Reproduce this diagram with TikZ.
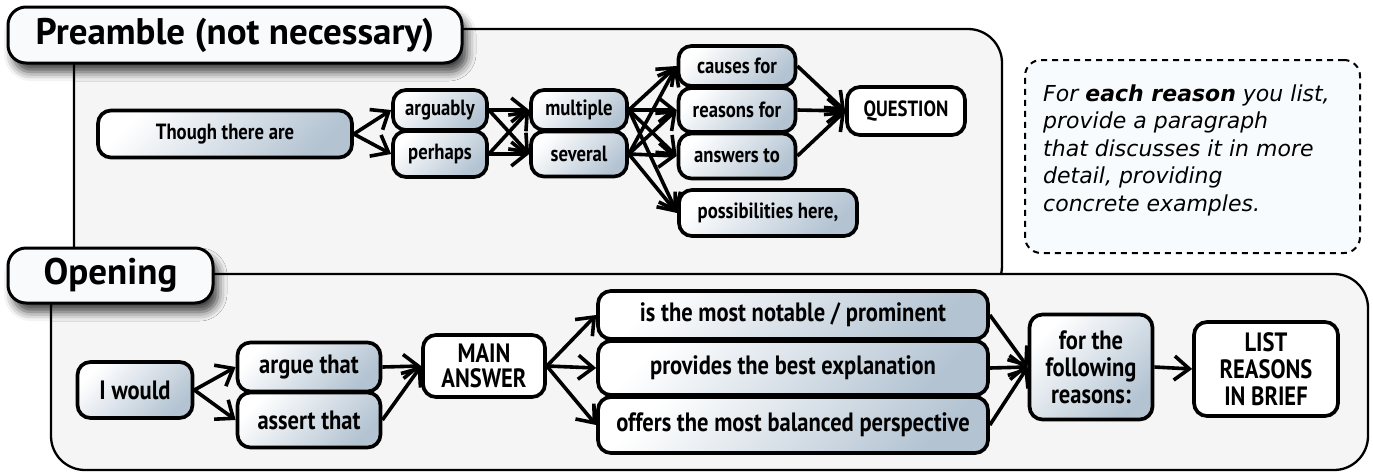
\documentclass[tikz,border=0pt]{standalone}
\usepackage{fontspec}
\newfontfamily\nodefont[FakeStretch=0.85]{PT Sans}
\newfontfamily\titlefont{PT Sans}
\newfontfamily\notefont{DejaVu Sans}
\usetikzlibrary{arrows.meta,shadows.blur}
\definecolor{panelgray}{HTML}{F5F5F5}
\definecolor{nodedark}{HTML}{B3C3D2}
\definecolor{notefill}{HTML}{F7FBFD}
\definecolor{titlefill}{HTML}{F9FAFB}
\tikzset{
  panel/.style={draw=black, line width=2.3pt, fill=panelgray, rounded corners=34pt},
  titlebox/.style={draw=black, line width=3pt, fill=titlefill, rounded corners=18pt, inner sep=0pt,
    blur shadow={shadow xshift=5pt, shadow yshift=-9pt, shadow blur radius=9pt, shadow opacity=75},
    font=\titlefont\bfseries\fontsize{37}{40}\selectfont},
  basebox/.style={draw=black, line width=3.7pt, rounded corners=13pt, inner sep=0pt, align=center},
  gbox/.style={basebox, top color=white, bottom color=nodedark, shading angle=45},
  wbox/.style={basebox, fill=white},
  pfont/.style={font=\nodefont\bfseries\fontsize{22}{25}\selectfont},
  ofont/.style={font=\nodefont\bfseries\fontsize{26.5}{25}\selectfont},
  lfont/.style={font=\nodefont\bfseries\fontsize{26.5}{27}\selectfont},
  arr/.style={line width=3.6pt, -{Straight Barb[length=15pt,width=24pt]}},
  notebox/.style={draw=black, line width=2pt, dash pattern=on 6pt off 5pt, fill=notefill, rounded corners=16pt},
}
\begin{document}
\begin{tikzpicture}[x=1pt,y=-1pt]
\useasboundingbox (0,0) rectangle (1373,472);
% panels
\path[panel] (74,29) rectangle (1002,300);
\node[titlebox, minimum width=454pt, minimum height=56pt] (pretitle) at (235,35) {Preamble (not necessary)};
\path[panel] (51,274) rectangle (1368,470);
\node[titlebox, minimum width=205pt, minimum height=55pt] (opentitle) at (110.5,275.5) {Opening};
% note
\node[notebox, minimum width=335pt, minimum height=193pt] (notebox) at (1192.5,156.5) {};
\node[anchor=west, align=left, inner sep=0pt, font=\notefont\itshape\fontsize{22}{27.5}\selectfont] (notetext) at (1043,150)
  {For \textbf{each reason} you list,\\provide a paragraph\\that discusses it in more\\detail, providing\\concrete examples.};
% preamble nodes
\node[gbox, pfont, minimum width=254pt, minimum height=47pt] (though) at (225,134) {Though there are};
\node[gbox, pfont, minimum width=94pt, minimum height=40pt] (arguably) at (440,110) {arguably};
\node[gbox, pfont, minimum width=94pt, minimum height=46pt] (perhaps) at (440,154) {perhaps};
\node[gbox, pfont, minimum width=96pt, minimum height=40pt] (multiple) at (579,110) {multiple};
\node[gbox, pfont, minimum width=96pt, minimum height=45pt] (several) at (579,154) {several};
\node[gbox, pfont, minimum width=117pt, minimum height=40pt] (causes) at (737,66) {causes for};
\node[gbox, pfont, minimum width=117pt, minimum height=44pt] (reasons) at (737,110) {reasons for};
\node[gbox, pfont, minimum width=117pt, minimum height=45pt] (answers) at (737,156) {answers to};
\node[gbox, pfont, minimum width=178pt, minimum height=46pt] (possib) at (768,213) {possibilities here,};
\node[wbox, pfont, minimum width=118pt, minimum height=48pt] (question) at (906,111) {QUESTION};
% opening nodes
\node[gbox, ofont, minimum width=115pt, minimum height=56pt] (iwould) at (135,390) {I would};
\node[gbox, ofont, minimum width=143pt, minimum height=49pt] (argue) at (309,367) {argue that};
\node[gbox, ofont, minimum width=143pt, minimum height=55pt] (assert) at (309,420) {assert that};
\node[wbox, ofont, minimum width=122pt, minimum height=62pt] (main) at (484,366) {MAIN\\ANSWER};
\node[gbox, ofont, minimum width=390pt, minimum height=48pt] (notable) at (793,315) {is the most notable / prominent};
\node[gbox, ofont, minimum width=390pt, minimum height=54pt] (provides) at (793,368) {provides the best explanation};
\node[gbox, ofont, minimum width=390pt, minimum height=56pt] (offers) at (793,425) {offers the most balanced perspective};
\node[gbox, lfont, minimum width=123pt, minimum height=105pt] (following) at (1091,367) {for the\\following\\reasons:};
\node[wbox, lfont, minimum width=144pt, minimum height=94pt] (list) at (1266,369) {LIST\\REASONS\\IN BRIEF};
% arrows
\foreach \a/\b in {though/arguably, though/perhaps,
  arguably/multiple, arguably/several, perhaps/multiple, perhaps/several,
  multiple/causes, multiple/reasons, multiple/answers, multiple/possib,
  several/causes, several/reasons, several/answers, several/possib,
  causes/question, reasons/question, answers/question,
  iwould/argue, iwould/assert, argue/main, assert/main,
  main/notable, main/provides, main/offers,
  notable/following, provides/following, offers/following, following/list}
  \draw[arr] (\a.east) -- (\b.west);
\end{tikzpicture}
\end{document}
